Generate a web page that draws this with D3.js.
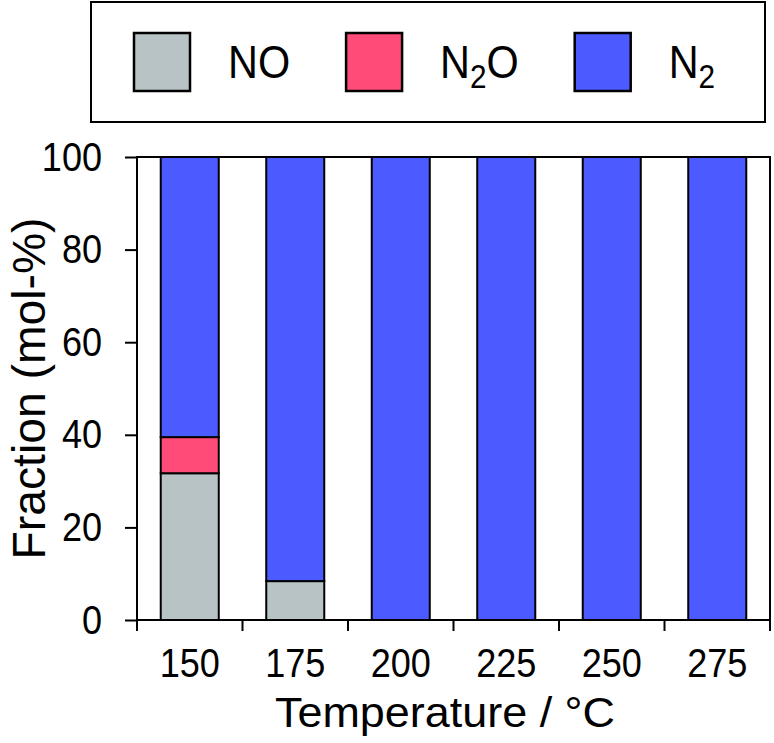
<!DOCTYPE html>
<html>
<head>
<meta charset="utf-8">
<script src="https://cdn.jsdelivr.net/npm/d3@7"></script>
<style>
  body { margin: 0; background: #fff; }
  svg { display: block; font-family: "Liberation Sans", Arial, sans-serif; }
</style>
</head>
<body>
<svg id="chart" width="774" height="743"></svg>
<script>
// Chart data
var temperatures = ['150', '175', '200', '225', '250', '275'];
var noValues  = [31.7, 8.4, 0, 0, 0, 0];
var n2oValues = [7.8, 0, 0, 0, 0, 0];
var n2Values  = [60.5, 91.6, 100, 100, 100, 100];
var yTicks = [0, 20, 40, 60, 80, 100];
var seriesKeys = ['NO', 'N2O', 'N2'];
var seriesColors = ['#b8c3c5', '#ff4b78', '#4b5bff'];

// build rows for d3.stack
var rows = temperatures.map(function(t, i) {
  return { temp: t, NO: noValues[i], N2O: n2oValues[i], N2: n2Values[i] };
});

var plotLeft = 137, plotRight = 770, plotTop = 157, plotBottom = 620;
var narrow = 0.88; // the original font is a bit condensed

var svg = d3.select('#chart');

var x = d3.scaleBand()
    .domain(temperatures)
    .range([plotLeft, plotRight])
    .paddingInner(0.45)
    .paddingOuter(0.225);

var y = d3.scaleLinear()
    .domain([0, 100])
    .range([plotBottom, plotTop]);

var color = d3.scaleOrdinal().domain(seriesKeys).range(seriesColors);

var stacked = d3.stack().keys(seriesKeys)(rows);

// Bars
svg.append('g')
  .selectAll('g')
  .data(stacked)
  .join('g')
    .attr('fill', function(d) { return color(d.key); })
  .selectAll('rect')
  .data(function(d) { return d.filter(function(s) { return s[1] - s[0] > 0; }); })
  .join('rect')
    .attr('x', function(d) { return x(d.data.temp); })
    .attr('y', function(d) { return y(d[1]); })
    .attr('width', x.bandwidth())
    .attr('height', function(d) { return y(d[0]) - y(d[1]); })
    .attr('stroke', '#000')
    .attr('stroke-width', 2);

// Plot frame
svg.append('rect')
    .attr('x', plotLeft)
    .attr('y', plotTop)
    .attr('width', plotRight - plotLeft)
    .attr('height', plotBottom - plotTop)
    .attr('fill', 'none')
    .attr('stroke', '#000')
    .attr('stroke-width', 2);

// Y axis
var yAxis = svg.append('g')
    .attr('transform', 'translate(' + plotLeft + ',0)')
    .call(d3.axisLeft(y).tickValues(yTicks).tickSize(12));
yAxis.select('.domain').remove();
yAxis.selectAll('line').attr('stroke-width', 2);
yAxis.selectAll('text')
    .attr('font-size', 41)
    .attr('font-family', '"Liberation Sans", Arial, sans-serif')
    .attr('fill', '#000')
    .attr('x', -35 / narrow)
    .attr('transform', 'scale(' + narrow + ',1)');

// X axis labels at band centres
var xAxis = svg.append('g')
    .attr('transform', 'translate(0,' + plotBottom + ')')
    .call(d3.axisBottom(x).tickSize(0).tickPadding(28));
xAxis.select('.domain').remove();
xAxis.selectAll('text')
    .attr('font-size', 41)
    .attr('font-family', '"Liberation Sans", Arial, sans-serif')
    .attr('fill', '#000')
    .attr('transform', 'scale(' + narrow + ',1)');

// X ticks sit on the category boundaries
var boundaries = d3.range(temperatures.length + 1).map(function(i) {
  return x.range()[0] + i * x.step();
});
svg.append('g')
  .selectAll('line')
  .data(boundaries)
  .join('line')
    .attr('x1', function(d) { return d; })
    .attr('x2', function(d) { return d; })
    .attr('y1', plotBottom)
    .attr('y2', plotBottom + 11)
    .attr('stroke', '#000')
    .attr('stroke-width', 2);

// Axis titles
svg.append('text')
    .attr('x', 445)
    .attr('y', 727)
    .attr('text-anchor', 'middle')
    .attr('font-size', 42)
    .attr('textLength', 340)
    .attr('lengthAdjust', 'spacingAndGlyphs')
    .text('Temperature / °C');

svg.append('text')
    .attr('transform', 'translate(45,' + (plotTop + plotBottom) / 2 + ') rotate(-90)')
    .attr('text-anchor', 'middle')
    .attr('font-size', 46)
    .attr('textLength', 342)
    .attr('lengthAdjust', 'spacingAndGlyphs')
    .text('Fraction (mol-%)');

// Legend
svg.append('rect')
    .attr('x', 91)
    .attr('y', 2)
    .attr('width', 674)
    .attr('height', 120)
    .attr('fill', '#fff')
    .attr('stroke', '#000')
    .attr('stroke-width', 2);

var legendX = 134;
seriesKeys.forEach(function(key) {
  svg.append('rect')
      .attr('x', legendX)
      .attr('y', 33)
      .attr('width', 56)
      .attr('height', 58)
      .attr('fill', color(key))
      .attr('stroke', '#000')
      .attr('stroke-width', 2.5);

  var label = svg.append('text')
      .attr('transform', 'translate(' + (legendX + 56 + 38) + ',78) scale(0.9,1)')
      .attr('font-size', 46);

  // subscript 2 for N2O and N2
  if (key === 'NO') {
    label.text('NO');
  } else {
    label.append('tspan').text('N');
    label.append('tspan').attr('font-size', 33).attr('dy', 10).text('2');
    if (key === 'N2O') label.append('tspan').attr('dy', -10).text('O');
  }

  legendX += 56 + 38 + label.node().getComputedTextLength() * 0.9 + 56;
});
</script>
</body>
</html>
